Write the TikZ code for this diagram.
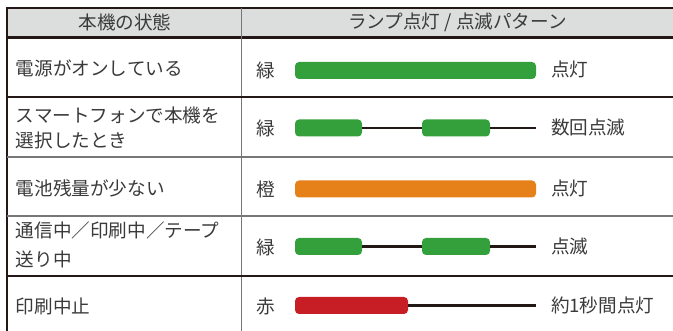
\documentclass[tikz,border=0pt]{standalone}
\usepackage{fontspec}
\newfontfamily\jp{Noto Sans CJK JP}
\definecolor{lampgreen}{HTML}{34A03C}
\definecolor{lamporange}{HTML}{E68119}
\definecolor{lampred}{HTML}{C71D24}
\definecolor{headgray}{HTML}{DCDEDD}
\definecolor{rule}{HTML}{231815}
\definecolor{rulegray}{HTML}{777777}
\definecolor{txt}{HTML}{3A3A3A}
\begin{document}
\begin{tikzpicture}[x=1pt,y=-1pt,
  every node/.style={inner sep=0pt,outer sep=0pt,font=\jp\fontsize{18.6}{21}\selectfont,text=txt},
  lampbar/.style={rounded corners=4pt,minimum height=17pt,draw=none},
  cell/.style={anchor=west},
  wire/.style={draw=rule,line width=2.6pt},
  thick rule/.style={draw=rule,line width=2.4pt},
  thin rule/.style={draw=#1,line width=1.2pt}]
\useasboundingbox (0,0) rectangle (673,331);
% header
\fill[headgray] (8,8) rectangle (673,37);
\draw[thick rule] (6,8) -- (673,8);
\draw[thick rule] (6,37.5) -- (673,37.5);
\draw[thick rule] (7,7) -- (7,331);
\draw[thin rule=rulegray] (241.5,8) -- (241.5,331);
\draw[thin rule=rule] (7,97) -- (673,97);
\draw[thin rule=rulegray] (7,157) -- (673,157);
\draw[thin rule=rulegray] (7,216) -- (673,216);
\draw[thin rule=rule] (7,276) -- (673,276);
\node (h1) at (125,22) {本機の状態};
\node[cell] (h2) at (348,22) {ランプ点灯 / 点滅パターン};
% left column
\node[cell] (s1) at (16,68) {電源がオンしている};
\node[cell] (s2a) at (16,115) {スマートフォンで本機を};
\node[cell] (s2b) at (16,140) {選択したとき};
\node[cell] (s3) at (16,188) {電池残量が少ない};
\node[cell] (s4a) at (16,230) {通信中／印刷中／テープ};
\node[cell] (s4b) at (16,259) {送り中};
\node[cell] (s5) at (16,306) {印刷中止};
% colour names
\node (c1) at (266,70) {緑};
\node (c2) at (266,128) {緑};
\node (c3) at (266,189) {橙};
\node (c4) at (266,247) {緑};
\node (c5) at (266,306) {赤};
% row 1
\node[lampbar,fill=lampgreen,minimum width=241pt] (b1) at (415.5,70.5) {};
\node[cell] (r1) at (551,69) {点灯};
% row 2
\node[lampbar,fill=lampgreen,minimum width=67pt] (b2a) at (328.5,128) {};
\node[lampbar,fill=lampgreen,minimum width=68pt] (b2b) at (456,128) {};
\coordinate (e2) at (536,128);
\draw[wire] (b2a.east) -- (b2b.west);
\draw[wire] (b2b.east) -- (e2);
\node[cell] (r2) at (551,127) {数回点滅};
% row 3
\node[lampbar,fill=lamporange,minimum width=241pt] (b3) at (415.5,189) {};
\node[cell] (r3) at (551,188) {点灯};
% row 4
\node[lampbar,fill=lampgreen,minimum width=67pt] (b4a) at (328.5,246.5) {};
\node[lampbar,fill=lampgreen,minimum width=68pt] (b4b) at (456,246.5) {};
\coordinate (e4) at (536,246.5);
\draw[wire] (b4a.east) -- (b4b.west);
\draw[wire] (b4b.east) -- (e4);
\node[cell] (r4) at (551,246) {点滅};
% row 5
\node[lampbar,fill=lampred,minimum width=113pt] (b5) at (351.5,305.5) {};
\coordinate (e5) at (536,305.5);
\draw[wire] (b5.east) -- (e5);
\node[cell] (r5) at (551,305) {約1秒間点灯};
\end{tikzpicture}
\end{document}
